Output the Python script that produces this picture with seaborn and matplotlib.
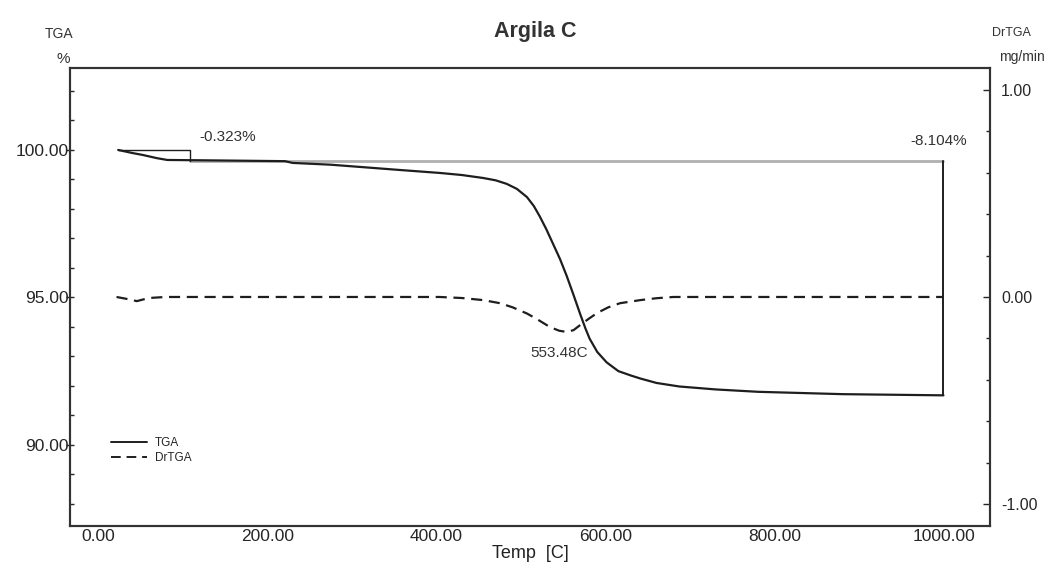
import pandas as pd
import numpy as np
import matplotlib
matplotlib.use('Agg')
import matplotlib.pyplot as plt
from matplotlib.ticker import MultipleLocator, FormatStrFormatter
import seaborn as sns

sns.set_style('white')
plt.rcParams['font.family'] = ['Liberation Sans', 'DejaVu Sans']

# TGA curve (temperature in C, mass in %)
tga_temp = [24, 40, 53, 70, 82, 120, 221, 230, 275, 357, 404, 430, 455, 470,
            483, 495, 507, 515, 522, 530, 538, 546, 554, 562, 570, 576, 581,
            590, 601, 615, 630, 641, 660, 687, 730, 780, 880, 999]
tga_mass = [100.0, 99.9, 99.83, 99.72, 99.66, 99.65, 99.62, 99.56, 99.5, 99.32,
            99.22, 99.15, 99.05, 98.97, 98.85, 98.68, 98.4, 98.1, 97.75, 97.3,
            96.8, 96.3, 95.72, 95.08, 94.42, 93.95, 93.6, 93.15, 92.8, 92.5,
            92.35, 92.25, 92.1, 91.98, 91.88, 91.8, 91.72, 91.68]

# DrTGA curve (mg/min)
dr_temp = [22, 35, 46, 60, 80, 200, 300, 404, 430, 455, 475, 490, 507, 520,
           534, 545, 554, 562, 570, 580, 590, 603, 617, 641, 660, 680, 800, 999]
dr_val = [0.0, -0.01, -0.02, -0.005, 0.0, 0.0, 0.0, 0.0, -0.005, -0.015, -0.03,
          -0.05, -0.08, -0.11, -0.145, -0.163, -0.169, -0.16, -0.135, -0.105,
          -0.077, -0.05, -0.03, -0.015, -0.006, 0.0, 0.0, 0.0]

step_labels = ['-0.323%', '-8.104%']
peak_label = '553.48C'

tga_df = pd.DataFrame({'Temp': tga_temp, 'TGA': tga_mass})
dr_df = pd.DataFrame({'Temp': dr_temp, 'DrTGA': dr_val})

fig = plt.figure(figsize=(10.57, 5.71), dpi=100)
ax = fig.add_axes([0.0662, 0.0788, 0.8704, 0.8022])
ax2 = ax.twinx()

line_col = '#1e1e1e'
dash = (0, (5, 3))
sns.lineplot(data=tga_df, x='Temp', y='TGA', ax=ax, color=line_col, lw=1.6)
sns.lineplot(data=dr_df, x='Temp', y='DrTGA', ax=ax2, color=line_col, lw=1.6,
             linestyle=dash)

# step analysis markers
ax.plot([24, 109, 109], [100.0, 100.0, 99.63], color=line_col, lw=1.0)
ax.plot([109, 999], [99.63, 99.63], color='#b0b0b0', lw=2.0, zorder=1)
ax.plot([999, 999], [99.63, 91.68], color=line_col, lw=1.4)
ax.text(120, 100.45, step_labels[0], fontsize=11, color='#333333', va='center')
ax.text(1027, 100.3, step_labels[1], fontsize=11, color='#333333', ha='right',
        va='center')
ax.text(511, 93.12, peak_label, fontsize=11, color='#333333', va='center')

ax.set_xlim(-33, 1054)
ax.set_ylim(87.25, 102.78)
ax2.set_ylim(-1.106, 1.106)

ax.xaxis.set_major_locator(MultipleLocator(200))
ax.yaxis.set_major_locator(MultipleLocator(5))
ax.yaxis.set_minor_locator(MultipleLocator(1))
ax2.yaxis.set_major_locator(MultipleLocator(1))
ax2.yaxis.set_minor_locator(MultipleLocator(0.2))
ax.xaxis.set_major_formatter(FormatStrFormatter('%.2f'))
ax.yaxis.set_major_formatter(FormatStrFormatter('%.2f'))
ax2.yaxis.set_major_formatter(FormatStrFormatter('%.2f'))

ax.tick_params(axis='y', which='major', direction='inout', length=6, width=1,
               labelsize=12.5, pad=-2)
ax.tick_params(axis='y', which='minor', direction='in', length=3, width=1)
ax.tick_params(axis='x', which='major', direction='in', length=5, width=1,
               labelsize=12.5, pad=2)
ax2.tick_params(axis='y', which='major', direction='in', length=5, width=1,
                labelsize=11.5, pad=8)
ax2.tick_params(axis='y', which='minor', direction='in', length=3, width=1)

for a in (ax, ax2):
    for s in a.spines.values():
        s.set_color('#333333')
        s.set_linewidth(1.5)
    a.set_xlabel('')
    a.set_ylabel('')

ax.set_xlabel('Temp  [C]', fontsize=13, labelpad=1, color='#222222')

fig.text(0.056, 0.94, 'TGA', fontsize=10, ha='center', va='center', color='#333333')
fig.text(0.06, 0.897, '%', fontsize=11, ha='center', va='center', color='#333333')
fig.text(0.957, 0.942, 'DrTGA', fontsize=9, ha='center', va='center', color='#333333')
fig.text(0.967, 0.9, 'mg/min', fontsize=10, ha='center', va='center', color='#333333')
fig.text(0.506, 0.945, 'Argila C', fontsize=15.5, ha='center', va='center',
         fontweight='bold', color='#333333')

# legend
ax.plot([0, 0], [0, 0], color=line_col, lw=1.4, label='TGA')
ax.plot([0, 0], [0, 0], color=line_col, lw=1.4, linestyle=dash, label='DrTGA')
handles, labels = ax.get_legend_handles_labels()
ax.legend(handles[-2:], labels[-2:], loc='upper left', bbox_to_anchor=(0.04, 0.205),
          frameon=False, fontsize=8.5, handlelength=3.0, handletextpad=0.7,
          labelspacing=0.3, borderaxespad=0)

fig.savefig('out.png', dpi=100)
